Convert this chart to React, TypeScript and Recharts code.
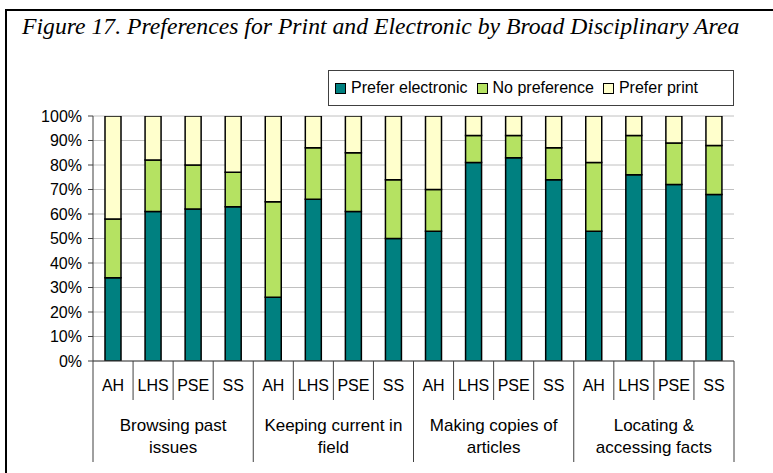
import React from 'react';
import { BarChart, Bar, XAxis, YAxis, CartesianGrid } from 'recharts';

const groupLabels = [
  ['Browsing past', 'issues'],
  ['Keeping current in', 'field'],
  ['Making copies of', 'articles'],
  ['Locating &', 'accessing facts'],
];
const areas = ['AH', 'LHS', 'PSE', 'SS'];

const preferElectronic = [34, 61, 62, 63, 26, 66, 61, 50, 53, 81, 83, 74, 53, 76, 72, 68];
const noPreference = [24, 21, 18, 14, 39, 21, 24, 24, 17, 11, 9, 13, 28, 16, 17, 20];
const preferPrint = [42, 18, 20, 23, 35, 13, 15, 26, 30, 8, 8, 13, 19, 8, 11, 12];

const yTicks = [0, 10, 20, 30, 40, 50, 60, 70, 80, 90, 100];

const series = [
  { key: 'electronic', name: 'Prefer electronic', color: '#008080' },
  { key: 'none', name: 'No preference', color: '#B5E262' },
  { key: 'print', name: 'Prefer print', color: '#FFFFCC' },
];

const data = preferElectronic.map((v, i) => ({
  label: areas[i % 4],
  group: Math.floor(i / 4),
  electronic: v,
  none: noPreference[i],
  print: preferPrint[i],
}));

const W = 773;
const H = 473;
const M = { top: 116, right: 39, left: 8, bottom: 0 };
const Y_W = 85;
const SLOT = (W - M.left - M.right - Y_W) / data.length;
const FONT = '"Liberation Sans", Arial, sans-serif';
const LINE = '#404040';

function XTick(props: any) {
  const { x, y, payload, index } = props;
  const half = SLOT / 2;
  const groupEnd = index % 4 === 3;
  const lines = groupLabels[Math.floor(index / 4)];
  return (
    <g>
      {index === 0 && <line x1={x - half} x2={x - half} y1={y} y2={y + 101} stroke={LINE} />}
      <line x1={x + half} x2={x + half} y1={y} y2={y + (groupEnd ? 101 : 39)} stroke={LINE} />
      <text x={x} y={y + 30} textAnchor="middle" fontSize={16} fontFamily={FONT} fill="#000">
        {payload.value}
      </text>
      {index % 4 === 1 && (
        <text x={x + half} textAnchor="middle" fontSize={17} fontFamily={FONT} fill="#000">
          <tspan x={x + half} y={y + 70}>{lines[0]}</tspan>
          <tspan x={x + half} y={y + 92}>{lines[1]}</tspan>
        </text>
      )}
    </g>
  );
}

export default function App() {
  return (
    <div style={{ position: 'absolute', left: 0, top: 0, width: W, height: H, overflow: 'hidden', background: '#fff' }}>
      <div style={{ position: 'absolute', left: 5, top: 9, width: 820, height: 520, border: '2px solid #000' }} />
      <div
        style={{
          position: 'absolute',
          left: 22,
          top: 13,
          fontFamily: '"Liberation Serif", "Times New Roman", serif',
          fontStyle: 'italic',
          fontSize: 23.7,
          whiteSpace: 'nowrap',
          color: '#000',
        }}
      >
        Figure 17. Preferences for Print and Electronic by Broad Disciplinary Area
      </div>
      <div
        style={{
          position: 'absolute',
          left: 328,
          top: 70,
          width: 406,
          height: 36,
          border: '1px solid #404040',
          display: 'flex',
          alignItems: 'center',
          paddingLeft: 6,
          boxSizing: 'border-box',
          fontFamily: FONT,
          fontSize: 16,
          color: '#000',
        }}
      >
        {series.map((s) => (
          <div key={s.key} style={{ display: 'flex', alignItems: 'center', marginRight: 9 }}>
            <span
              style={{
                display: 'inline-block',
                width: 9,
                height: 9,
                border: '1px solid #000',
                background: s.color,
                marginRight: 5,
              }}
            />
            <span>{s.name}</span>
          </div>
        ))}
      </div>
      <div style={{ position: 'absolute', left: 0, top: 0 }}>
        <BarChart width={W} height={H} data={data} margin={M} barSize={16}>
          <CartesianGrid vertical={false} stroke="#c0c0c0" />
          <XAxis
            dataKey="label"
            interval={0}
            height={H - 361}
            tickSize={0}
            tickMargin={0}
            tickLine={false}
            axisLine={{ stroke: LINE }}
            tick={<XTick />}
          />
          <YAxis
            domain={[0, 100]}
            ticks={yTicks}
            width={Y_W}
            tickSize={5}
            tickMargin={6}
            tickFormatter={(v) => `${v}%`}
            tick={{ fill: '#000', fontSize: 16, fontFamily: FONT }}
            tickLine={{ stroke: LINE }}
            axisLine={{ stroke: LINE }}
            allowDataOverflow
          />
          <YAxis
            yAxisId="right"
            orientation="right"
            domain={[0, 100]}
            width={0}
            tick={false}
            tickLine={false}
            axisLine={{ stroke: '#a0a0a0' }}
          />
          {series.map((s) => (
            <Bar
              key={s.key}
              dataKey={s.key}
              name={s.name}
              stackId="a"
              fill={s.color}
              stroke="#000"
              strokeWidth={1.5}
              isAnimationActive={false}
            />
          ))}
        </BarChart>
      </div>
    </div>
  );
}
